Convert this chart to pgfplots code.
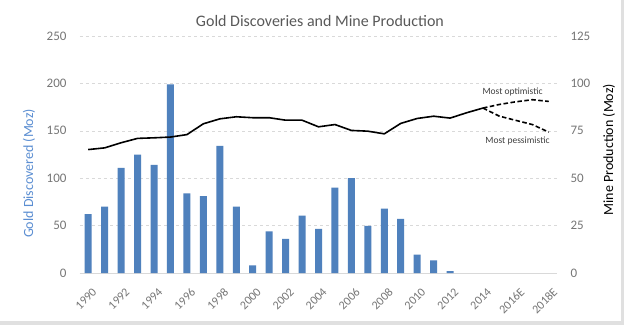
\documentclass[border=0pt]{standalone}
\usepackage{fontspec}
\setmainfont{Carlito}
\usepackage{pgfplots}
\pgfplotsset{compat=1.18}
\definecolor{barblue}{RGB}{79,129,189}
\definecolor{lblblue}{RGB}{91,142,210}
\definecolor{tickgray}{RGB}{118,118,118}
\definecolor{titlegray}{RGB}{89,89,89}
\definecolor{gridgray}{RGB}{217,217,217}
\definecolor{notegray}{RGB}{64,64,64}
\begin{document}
\begin{tikzpicture}[x=1pt,y=1pt]
\fill[white] (0,0) rectangle (624,325);
\fill[black!12] (0,0) rectangle (624,4);
\fill[black!12] (621,0) rectangle (624,325);
\path[use as bounding box] (0,0) rectangle (624,325);
\begin{axis}[
  at={(80pt,52pt)}, anchor=south west,
  scale only axis, width=477pt, height=237pt,
  xmin=-0.5, xmax=28.5, ymin=0, ymax=250,
  axis x line*=bottom, axis y line*=left,
  x axis line style={draw=gridgray, line width=0.8pt, -},
  y axis line style={draw=none},
  ymajorgrids, grid style={gridgray, dashed, line width=0.6pt},
  major tick length=0pt,
  xtick={0,2,...,28},
  xticklabels={1990,1992,1994,1996,1998,2000,2002,2004,2006,2008,2010,2012,2014,2016E,2018E},
  xticklabel style={rotate=45, anchor=north east, inner sep=0.5pt, font=\fontsize{12}{12}\selectfont, text=tickgray, yshift=-12pt, xshift=-7pt},
  ytick={0,50,...,250},
  yticklabel style={font=\fontsize{13}{13}\selectfont, text=tickgray, xshift=-10pt},
  /pgf/number format/assume math mode=true,
  ylabel={Gold Discovered (Moz)},
  every axis y label/.style={at={(axis description cs:-0.107,0.42)}, rotate=90, anchor=center, font=\fontsize{14}{14}\selectfont, text=lblblue},
  title={Gold Discoveries and Mine Production},
  every axis title/.style={at={(axis description cs:0.503,1.064)}, anchor=center, font=\fontsize{16}{16}\selectfont, text=titlegray},
]
\addplot[ybar, bar width=7pt, fill=barblue, draw=none] coordinates {
(0,62) (1,70) (2,111) (3,125) (4,114) (5,199) (6,84) (7,81) (8,134) (9,70)
(10,8) (11,44) (12,36) (13,60.5) (14,46.5) (15,90) (16,100) (17,49.6) (18,68)
(19,57) (20,19.4) (21,13.4) (22,2)
};
\end{axis}
\begin{axis}[
  at={(80pt,52pt)}, anchor=south west,
  scale only axis, width=477pt, height=237pt,
  xmin=-0.5, xmax=28.5, ymin=0, ymax=125,
  axis x line=none, axis y line*=right,
  y axis line style={draw=none},
  major tick length=0pt,
  ytick={0,25,...,125},
  yticklabel style={font=\fontsize{13}{13}\selectfont, text=tickgray, xshift=10pt},
  /pgf/number format/assume math mode=true,
  ylabel={Mine Production (Moz)},
  every axis y label/.style={at={(axis description cs:1.109,0.52)}, rotate=90, anchor=center, font=\fontsize{14}{14}\selectfont, text=black},
]
\addplot[black, line width=1.6pt] coordinates {
(0,65.1) (1,66) (2,68.7) (3,71) (4,71.3) (5,71.7) (6,73) (7,78.7) (8,81.3) (9,82.4)
(10,81.9) (11,81.9) (12,80.6) (13,80.6) (14,77.1) (15,78.3) (16,75.2) (17,74.8)
(18,73.4) (19,78.9) (20,81.5) (21,82.7) (22,81.7) (23,84.5) (24,87)
};
\addplot[black, line width=1.6pt, dash pattern=on 4.5pt off 2.5pt] coordinates {
(24,87) (25,88.9) (26,90.3) (27,91.4) (28,90.5)
};
\addplot[black, line width=1.6pt, dash pattern=on 4.5pt off 2.5pt] coordinates {
(24,87) (25,82.7) (26,80.5) (27,78.3) (28,74.3)
};
\node[font=\fontsize{9.5}{9.5}\selectfont, text=notegray] at (axis cs:25.8,95.5) {Most optimistic};
\node[font=\fontsize{9.5}{9.5}\selectfont, text=notegray] at (axis cs:26.1,69.6) {Most pessimistic};
\end{axis}
\end{tikzpicture}
\end{document}
